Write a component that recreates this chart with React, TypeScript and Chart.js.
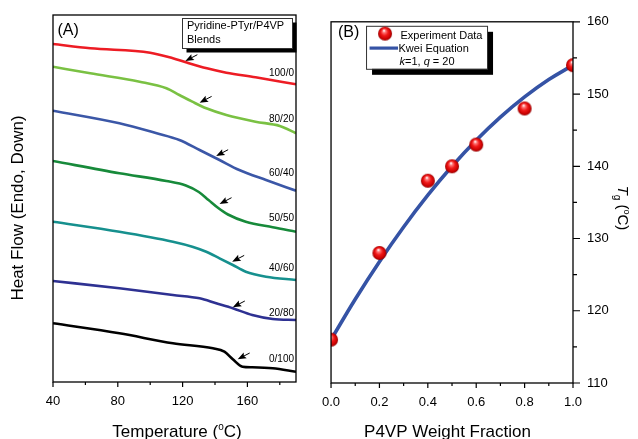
import React, { useEffect, useRef } from "react";
import { Chart, registerables } from "chart.js";
Chart.register(...registerables);

const FAMILY = '"Liberation Sans", Arial, Helvetica, sans-serif';

// ---------- Panel A : DSC traces (heat flow in arbitrary units) ----------
const BLEND_LABELS = ["100/0", "80/20", "60/40", "50/50", "40/60", "20/80", "0/100"];
const BLEND_COLORS = ["#ed1c24", "#7ac143", "#3b57a7", "#178a3a", "#16908e", "#2e3192", "#000000"];

const T_100_0 = [40, 63, 100, 114, 122, 135, 147, 165, 190];
const HF_100_0 = [338, 333.7, 329.3, 323.7, 319.7, 313.7, 309.3, 304.7, 297.7];
const T_80_20 = [40, 63, 93.5, 110, 118, 126, 134.6, 147, 165, 180, 190];
const HF_80_20 = [315.3, 308.7, 300.3, 293.7, 287, 280.3, 273.7, 267, 260.3, 256, 248.7];
const T_60_40 = [40, 81, 104, 118, 130.5, 142.8, 155, 171.5, 190];
const HF_60_40 = [271.3, 258.7, 248.7, 242, 232, 222, 212, 202, 191.3];
const T_50_50 = [40, 81, 110, 122, 130, 136, 142, 148, 159, 175.6, 190];
const HF_50_50 = [221, 208.7, 201, 196.5, 190, 182, 174, 167.5, 160.3, 154.7, 150.3];
const T_40_60 = [40, 81, 114, 126, 134.6, 142.8, 151, 159, 171.5, 190];
const HF_40_60 = [160.3, 150.3, 140.3, 135.3, 130.3, 123.7, 117, 110.3, 105.3, 102];
const T_20_80 = [40, 81, 114, 130.5, 140.7, 151, 163, 175.6, 190];
const HF_20_80 = [101, 93.7, 87, 83.7, 78.7, 73.7, 67, 63, 62];
const T_0_100 = [40, 81, 114, 138.7, 145.8, 151, 157, 163, 175.6, 190];
const HF_0_100 = [58.7, 48.7, 38.7, 33.7, 30.3, 22.7, 15.3, 14.7, 13.7, 10.3];

const A_T_SERIES = [T_100_0, T_80_20, T_60_40, T_50_50, T_40_60, T_20_80, T_0_100];
const A_HF_SERIES = [HF_100_0, HF_80_20, HF_60_40, HF_50_50, HF_40_60, HF_20_80, HF_0_100];

// Tg arrows (tip position) and blend label heights
const TG_ARROW_T = [121.7, 130.5, 140.7, 142.8, 150.6, 151, 154];
const TG_ARROW_HF = [321, 279.3, 226, 178, 120.3, 74.7, 22.7];
const LABEL_HF = [310, 264, 210, 165, 115, 70, 24];

const A_X_MIN = 40, A_X_MAX = 190;
const A_HF_MIN = 0, A_HF_MAX = 367;
const A_X_TICKS = [40, 80, 120, 160];
const A_X_MINOR = [60, 100, 140, 180];

// ---------- Panel B : Tg vs P4VP weight fraction ----------
const WF_EXP = [0, 0.2, 0.4, 0.5, 0.6, 0.8, 1.0];
const TG_EXP = [116, 128, 138, 140, 143, 148, 154];
const WF_KWEI = [0, 0.1, 0.2, 0.3, 0.4, 0.5, 0.6, 0.7, 0.8, 0.9, 1.0];
const TG_KWEI = [116, 121.6, 126.8, 131.6, 136, 140, 143.6, 146.8, 149.6, 152, 154];
const B_X_TICKS = [0, 0.2, 0.4, 0.6, 0.8, 1.0];
const B_X_MINOR = [0.1, 0.3, 0.5, 0.7, 0.9];
const B_Y_TICKS = [110, 120, 130, 140, 150, 160];
const B_Y_MINOR = [115, 125, 135, 145, 155];

const KWEI_COLOR = "#3553a5";
const B_OFFSET = 310; // page x of panel B canvas

let SPHERE: HTMLCanvasElement | null = null;

type Part = { t: string; s: number; dy?: number; it?: boolean };
function fontOf(p: Part) {
  return `${p.it ? "italic " : ""}${p.s}px ${FAMILY}`;
}
function drawParts(ctx: CanvasRenderingContext2D, parts: Part[], x: number, y: number, align: "left" | "center") {
  ctx.save();
  ctx.textBaseline = "alphabetic";
  ctx.textAlign = "left";
  ctx.fillStyle = "#000";
  let w = 0;
  for (const p of parts) {
    ctx.font = fontOf(p);
    w += ctx.measureText(p.t).width;
  }
  let cx = align === "center" ? x - w / 2 : x;
  for (const p of parts) {
    ctx.font = fontOf(p);
    ctx.fillText(p.t, cx, y + (p.dy || 0));
    cx += ctx.measureText(p.t).width;
  }
  ctx.restore();
}

function makeSphere(r: number) {
  const c = document.createElement("canvas");
  const size = Math.ceil(r * 2 + 2);
  c.width = size;
  c.height = size;
  const g = c.getContext("2d")!;
  const cx = size / 2, cy = size / 2;
  const grad = g.createRadialGradient(cx - r * 0.15, cy - r * 0.45, r * 0.05, cx, cy, r);
  grad.addColorStop(0, "#ffffff");
  grad.addColorStop(0.18, "#ff7a7a");
  grad.addColorStop(0.5, "#f01818");
  grad.addColorStop(0.85, "#c80000");
  grad.addColorStop(1, "#8a0000");
  g.fillStyle = grad;
  g.beginPath();
  g.arc(cx, cy, r, 0, Math.PI * 2);
  g.fill();
  return c;
}

function drawBox(ctx: CanvasRenderingContext2D, ca: any) {
  ctx.save();
  ctx.strokeStyle = "#000";
  ctx.lineWidth = 1.3;
  ctx.strokeRect(ca.left, ca.top, ca.right - ca.left, ca.bottom - ca.top);
  ctx.restore();
}

function drawXTicks(ctx: CanvasRenderingContext2D, scale: any, y: number, major: number[], minor: number[]) {
  ctx.save();
  ctx.strokeStyle = "#000";
  ctx.lineWidth = 1.2;
  ctx.beginPath();
  for (const v of major) {
    const x = scale.getPixelForValue(v);
    ctx.moveTo(x, y);
    ctx.lineTo(x, y + 5);
  }
  for (const v of minor) {
    const x = scale.getPixelForValue(v);
    ctx.moveTo(x, y);
    ctx.lineTo(x, y + 3);
  }
  ctx.stroke();
  ctx.restore();
}

function legendShadowBox(ctx: CanvasRenderingContext2D, x: number, y: number, w: number, h: number, off: number) {
  ctx.save();
  ctx.fillStyle = "#000";
  ctx.fillRect(x + off, y + off, w, h);
  ctx.fillStyle = "#fff";
  ctx.fillRect(x, y, w, h);
  ctx.strokeStyle = "#333";
  ctx.lineWidth = 1;
  ctx.strokeRect(x + 0.5, y + 0.5, w, h);
  ctx.restore();
}

const panelAPlugin = {
  id: "panelA",
  afterDatasetsDraw(chart: any) {
    const { ctx, chartArea: ca, scales } = chart;
    const xs = scales.x, ys = scales.y;
    ctx.save();
    ctx.fillStyle = "#000";
    ctx.strokeStyle = "#000";
    for (let i = 0; i < TG_ARROW_T.length; i++) {
      const tx = xs.getPixelForValue(TG_ARROW_T[i]);
      const ty = ys.getPixelForValue(TG_ARROW_HF[i]);
      const ax = tx + 12, ay = ty - 6.3;
      const len = Math.hypot(tx - ax, ty - ay);
      const dx = (tx - ax) / len, dy = (ty - ay) / len;
      const nx = -dy, ny = dx;
      ctx.lineWidth = 1;
      ctx.beginPath();
      ctx.moveTo(ax, ay);
      ctx.lineTo(tx - dx * 6, ty - dy * 6);
      ctx.stroke();
      ctx.beginPath();
      ctx.moveTo(tx, ty);
      ctx.lineTo(tx - dx * 8.5 + nx * 3.3, ty - dy * 8.5 + ny * 3.3);
      ctx.lineTo(tx - dx * 7 , ty - dy * 7);
      ctx.lineTo(tx - dx * 8.5 - nx * 3.3, ty - dy * 8.5 - ny * 3.3);
      ctx.closePath();
      ctx.fill();
    }
    ctx.restore();
    ctx.save();
    ctx.font = `10px ${FAMILY}`;
    ctx.fillStyle = "#000";
    ctx.textAlign = "right";
    ctx.textBaseline = "alphabetic";
    for (let i = 0; i < BLEND_LABELS.length; i++) {
      ctx.fillText(BLEND_LABELS[i], ca.right - 2, ys.getPixelForValue(LABEL_HF[i]) + 3.6);
    }
    ctx.restore();
  },
  afterDraw(chart: any) {
    const { ctx, chartArea: ca, scales } = chart;
    drawBox(ctx, ca);
    drawXTicks(ctx, scales.x, ca.bottom, A_X_TICKS, A_X_MINOR);
    const bx = ca.right - 114, by = ca.top + 3, bw = 110, bh = 30;
    legendShadowBox(ctx, bx, by, bw, bh, 4.5);
    drawParts(ctx, [{ t: "Pyridine-PTyr/P4VP", s: 11 }], bx + 5, by + 11.3, "left");
    drawParts(ctx, [{ t: "Blends", s: 11 }], bx + 5, by + 25.3, "left");
    drawParts(ctx, [{ t: "(A)", s: 16 }], ca.left + 4.5, 35, "left");
    const cx = (ca.left + ca.right) / 2 + 2.5;
    drawParts(ctx, [{ t: "Temperature (", s: 17 }, { t: "o", s: 10, dy: -7 }, { t: "C)", s: 17 }], cx, 437, "center");
    ctx.save();
    ctx.translate(23, 208);
    ctx.rotate(-Math.PI / 2);
    drawParts(ctx, [{ t: "Heat Flow (Endo, Down)", s: 17 }], 0, 0, "center");
    ctx.restore();
  },
};

const panelBPlugin = {
  id: "panelB",
  afterDraw(chart: any) {
    const { ctx, chartArea: ca, scales } = chart;
    drawBox(ctx, ca);
    drawXTicks(ctx, scales.x, ca.bottom, B_X_TICKS, B_X_MINOR);
    ctx.save();
    ctx.strokeStyle = "#000";
    ctx.lineWidth = 1.2;
    ctx.beginPath();
    for (const v of B_Y_TICKS) {
      const y = scales.y.getPixelForValue(v);
      ctx.moveTo(ca.right, y);
      ctx.lineTo(ca.right + 7, y);
    }
    for (const v of B_Y_MINOR) {
      const y = scales.y.getPixelForValue(v);
      ctx.moveTo(ca.right, y);
      ctx.lineTo(ca.right + 4, y);
    }
    ctx.stroke();
    ctx.restore();
    const lx = ca.left + 35, ly = ca.top + 4, lw = 121, lh = 43;
    legendShadowBox(ctx, lx, ly, lw, lh, 6);
    if (SPHERE) {
      ctx.drawImage(SPHERE, lx + 19 - SPHERE.width / 2, ly + 7.8 - SPHERE.height / 2);
    }
    drawParts(ctx, [{ t: "Experiment Data", s: 11 }], lx + 34.5, ly + 13.2, "left");
    ctx.save();
    ctx.strokeStyle = KWEI_COLOR;
    ctx.lineWidth = 3.2;
    ctx.beginPath();
    ctx.moveTo(lx + 3.5, ly + 22.3);
    ctx.lineTo(lx + 32, ly + 22.3);
    ctx.stroke();
    ctx.restore();
    drawParts(ctx, [{ t: "Kwei Equation", s: 11 }], lx + 32.5, ly + 26.3, "left");
    drawParts(
      ctx,
      [{ t: "k", s: 11, it: true }, { t: "=1, ", s: 11 }, { t: "q", s: 11, it: true }, { t: " = 20", s: 11 }],
      lx + 33.5,
      ly + 39,
      "left"
    );
    drawParts(ctx, [{ t: "(B)", s: 16 }], ca.left + 7, 37, "left");
    drawParts(ctx, [{ t: "P4VP Weight Fraction", s: 17 }], (ca.left + ca.right) / 2 - 4.5, 437, "center");
    ctx.save();
    ctx.translate(618 - B_OFFSET, 208);
    ctx.rotate(Math.PI / 2);
    drawParts(
      ctx,
      [
        { t: "T", s: 15, it: true },
        { t: "g", s: 10, dy: 4 },
        { t: " (", s: 15 },
        { t: "o", s: 9, dy: -6 },
        { t: "C)", s: 15 },
      ],
      0,
      0,
      "center"
    );
    ctx.restore();
  },
};

export default function App() {
  const refA = useRef<HTMLCanvasElement>(null);
  const refB = useRef<HTMLCanvasElement>(null);

  useEffect(() => {
    const tickFont = { family: FAMILY, size: 13 };
    const chartA = new Chart(refA.current!, {
      type: "line",
      data: {
        datasets: A_T_SERIES.map((ts, i) => ({
          label: BLEND_LABELS[i],
          data: ts.map((t, j) => ({ x: t, y: A_HF_SERIES[i][j] })),
          borderColor: BLEND_COLORS[i],
          borderWidth: 2.6,
          pointRadius: 0,
          fill: false,
          cubicInterpolationMode: "monotone",
        })),
      },
      options: {
        responsive: false,
        animation: false,
        devicePixelRatio: 1,
        layout: { padding: { left: 0, top: 15, right: 14, bottom: 0 } },
        plugins: { legend: { display: false }, tooltip: { enabled: false } },
        scales: {
          x: {
            type: "linear",
            min: A_X_MIN,
            max: A_X_MAX,
            grid: { display: false, drawTicks: false },
            border: { display: false },
            afterBuildTicks: (s: any) => {
              s.ticks = A_X_TICKS.map((v) => ({ value: v }));
            },
            ticks: { font: tickFont, color: "#000", padding: 12, maxRotation: 0, autoSkip: false, callback: (v: any) => String(v) },
            afterFit: (s: any) => {
              s.height = 57;
            },
          },
          y: {
            type: "linear",
            min: A_HF_MIN,
            max: A_HF_MAX,
            grid: { display: false, drawTicks: false },
            border: { display: false },
            ticks: { display: false },
            afterFit: (s: any) => {
              s.width = 53;
            },
          },
        },
      },
      plugins: [panelAPlugin],
    } as any);

    SPHERE = makeSphere(7);
    const chartB = new Chart(refB.current!, {
      type: "line",
      data: {
        datasets: [
          {
            label: "Experiment Data",
            data: WF_EXP.map((w, i) => ({ x: w, y: TG_EXP[i] })),
            showLine: false,
            pointStyle: SPHERE,
            pointRadius: 7,
            borderColor: "transparent",
            backgroundColor: "transparent",
          },
          {
            label: "Kwei Equation",
            data: WF_KWEI.map((w, i) => ({ x: w, y: TG_KWEI[i] })),
            borderColor: KWEI_COLOR,
            borderWidth: 3.6,
            pointRadius: 0,
            fill: false,
            tension: 0.4,
          },
        ],
      },
      options: {
        responsive: false,
        animation: false,
        devicePixelRatio: 1,
        layout: { padding: { left: 21, top: 16, right: 0, bottom: 0 } },
        plugins: { legend: { display: false }, tooltip: { enabled: false } },
        scales: {
          x: {
            type: "linear",
            min: 0,
            max: 1,
            grid: { display: false, drawTicks: false },
            border: { display: false },
            afterBuildTicks: (s: any) => {
              s.ticks = B_X_TICKS.map((v) => ({ value: v }));
            },
            ticks: { font: tickFont, color: "#000", padding: 12, maxRotation: 0, autoSkip: false, callback: (v: any) => Number(v).toFixed(1) },
            afterFit: (s: any) => {
              s.height = 56;
            },
          },
          y: {
            type: "linear",
            position: "right",
            min: 110,
            max: 160,
            grid: { display: false, drawTicks: false },
            border: { display: false },
            afterBuildTicks: (s: any) => {
              s.ticks = B_Y_TICKS.map((v) => ({ value: v }));
            },
            ticks: { font: tickFont, color: "#000", padding: 14, autoSkip: false, callback: (v: any) => String(v) },
            afterFit: (s: any) => {
              s.width = 65;
            },
          },
        },
      },
      plugins: [panelBPlugin],
    } as any);

    return () => {
      chartA.destroy();
      chartB.destroy();
    };
  }, []);

  return (
    <div style={{ position: "fixed", left: 0, top: 0, width: 638, height: 439, background: "#fff" }}>
      <canvas ref={refA} width={310} height={439} style={{ position: "absolute", left: 0, top: 0, width: 310, height: 439 }} />
      <canvas ref={refB} width={328} height={439} style={{ position: "absolute", left: B_OFFSET, top: 0, width: 328, height: 439 }} />
    </div>
  );
}
